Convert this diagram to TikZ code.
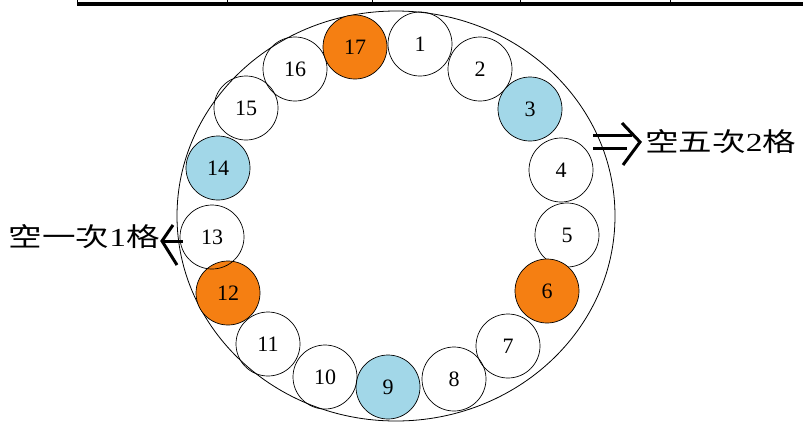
\documentclass[tikz,border=0pt]{standalone}
\usepackage{fontspec}
\setmainfont{Liberation Serif}
\newfontfamily\cjk{Noto Sans CJK TC}
\usepackage{tikz}

\definecolor{slotorange}{RGB}{245,127,18}
\definecolor{slotblue}{RGB}{162,215,232}

\tikzset{
  slot/.style={draw, circle, minimum size=64pt, inner sep=0pt, line width=0.7pt,
    font=\fontsize{22}{22}\selectfont},
  hitslot/.style={slot, fill=slotorange},
  skipslot/.style={slot, fill=slotblue},
  note/.style={font=\fontsize{26}{26}\selectfont, inner sep=0pt, xscale=1.29, transform shape},
  arrowstroke/.style={line width=3pt}
}

\begin{document}
\begin{tikzpicture}[x=1pt, y=-1pt]
  \useasboundingbox (0,0) rectangle (803,421);

  % table edge above
  \draw[line width=3.5pt] (77,4) -- (803,4);
  \draw[line width=0.8pt] (77,0) -- (77,4);
  \draw[line width=0.8pt] (227,0) -- (227,4);
  \draw[line width=0.8pt] (372,0) -- (372,4);
  \draw[line width=0.8pt] (520,0) -- (520,4);
  \draw[line width=0.8pt] (670,0) -- (670,4);

  % the ring
  \draw[line width=0.8pt] (396,216) ellipse [x radius=219pt, y radius=205pt];

  \node[slot]     (s1)  at (420,44)  {1};
  \node[slot]     (s2)  at (480,69)  {2};
  \node[skipslot] (s3)  at (530,109) {3};
  \node[slot]     (s4)  at (561,170) {4};
  \node[slot]     (s5)  at (567,235) {5};
  \node[hitslot]  (s6)  at (547,291) {6};
  \node[slot]     (s7)  at (508,346) {7};
  \node[slot]     (s8)  at (454,379) {8};
  \node[skipslot] (s9)  at (388,387) {9};
  \node[slot]     (s10) at (325,377) {10};
  \node[slot]     (s11) at (268,344) {11};
  \node[hitslot]  (s12) at (228,293) {12};
  \node[slot]     (s13) at (212,237) {13};
  \node[skipslot] (s14) at (218,168) {14};
  \node[slot]     (s15) at (246,108) {15};
  \node[slot]     (s16) at (295,69)  {16};
  \node[hitslot]  (s17) at (355,47)  {17};

  % five empty, jump by two
  \node[note, anchor=west] (far) at (645,142) {{\cjk 空五次}2{\cjk 格}};
  \draw[arrowstroke] (593,135) -- (632,135);
  \draw[arrowstroke] (593,148) -- (627,148);
  \draw[arrowstroke] (622,123) -- (640,142) -- (623,165);

  % one empty, jump by one
  \node[note, anchor=east] (near) at (160,237) {{\cjk 空一次}1{\cjk 格}};
  \draw[arrowstroke] (162,241) -- (183,241);
  \draw[arrowstroke] (173,225) -- (162,241) -- (177,265);

\end{tikzpicture}
\end{document}
